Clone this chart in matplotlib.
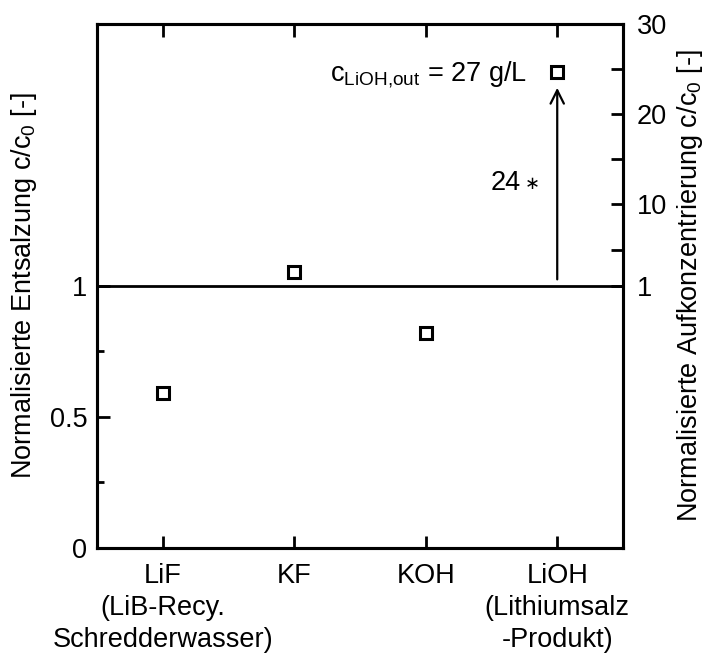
import matplotlib.pyplot as plt

plt.rcParams['font.family'] = ['Liberation Sans', 'DejaVu Sans']
plt.rcParams['mathtext.default'] = 'regular'

categories = ['LiF\n(LiB-Recy.\nSchredderwasser)', 'KF', 'KOH',
              'LiOH\n(Lithiumsalz\n-Produkt)']
# desalination points (left axis, 0..1)
entsalz_x = [0, 2]
entsalz_y = [0.59, 0.82]
# concentration points (right axis, 1..30)
aufkonz_x = [1, 3]
aufkonz_y = [2.5, 24.6]
arrow_top = 23.2

fs = 19.5
fig = plt.figure(figsize=(7.06, 6.54), dpi=100)
ax = fig.add_axes([0.1374, 0.1621, 0.745, 0.8019])
ax.set_xlim(-0.5, 3.5)
ax.set_ylim(0, 2)
ax.set_yticks([0, 0.5, 1])
ax.set_yticklabels(['0', '0.5', '1'])
ax.set_yticks([0.25, 0.75], minor=True)
ax.set_xticks(range(len(categories)))
ax.set_xticklabels(categories, linespacing=1.3)
ax.tick_params(axis='both', which='major', direction='in', length=9, width=2,
               labelsize=fs, pad=7, top=True)
ax.tick_params(axis='x', which='major', pad=11)
ax.tick_params(axis='y', which='minor', direction='in', length=5, width=2)
ax.tick_params(axis='x', which='minor', bottom=False, top=False)
ax.set_ylabel('Normalisierte Entsalzung c/c$_0$ [-]', fontsize=fs, labelpad=8)

ax2 = ax.twinx()
ax2.set_ylim(-28, 30)
ax2.set_yticks([1, 10, 20, 30])
ax2.set_yticks([5, 15, 25], minor=True)
ax2.tick_params(axis='y', which='both', direction='in', length=9, width=2,
                labelsize=fs, pad=10)
ax2.set_ylabel('Normalisierte Aufkonzentrierung c/c$_0$ [-]', fontsize=fs,
               labelpad=6)

for a in (ax, ax2):
    for s in a.spines.values():
        s.set_linewidth(2.2)

ax.axhline(1, color='k', lw=2)

ax.plot(entsalz_x, entsalz_y, 's', ms=9, mfc='white', mec='k', mew=2.2)
ax2.plot(aufkonz_x, aufkonz_y, 's', ms=9, mfc='white', mec='k', mew=2.2)

ax2.annotate('', xy=(3, arrow_top), xytext=(3, 1.4),
             arrowprops=dict(arrowstyle='->', color='k', lw=1.6,
                             mutation_scale=24))
ax2.text(2.72, 12.4, '24', fontsize=fs, ha='right', va='center')
ax2.text(2.87, 12.2, '\u2217', fontsize=13, ha='right', va='center',
         family='DejaVu Sans')
ax2.text(2.77, 24.3, 'c$_{LiOH{,}out}$ = 27 g/L', fontsize=fs, ha='right',
         va='center')

plt.savefig('out.png', dpi=100)
